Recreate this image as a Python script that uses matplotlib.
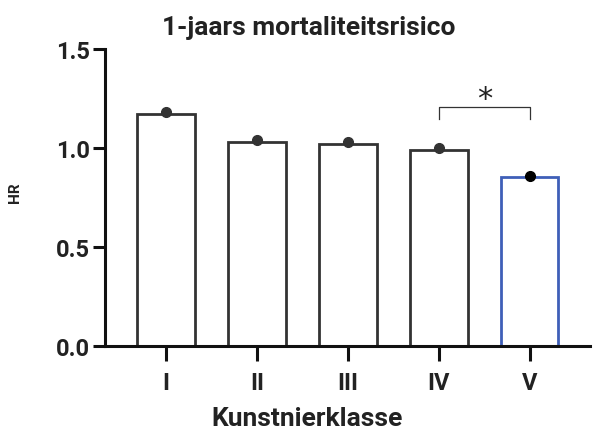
import numpy as np
import matplotlib
matplotlib.use("Agg")
import matplotlib.pyplot as plt

# hazard ratios per class (bar height) and the plotted point estimate
klassen = ["I", "II", "III", "IV", "V"]
hr_bar = [1.17, 1.03, 1.02, 0.99, 0.85]
hr_punt = [1.18, 1.04, 1.03, 1.00, 0.86]
randkleur = ["#333333", "#333333", "#333333", "#333333", "#3f5fb8"]
puntkleur = ["#333333", "#333333", "#333333", "#333333", "#000000"]
sig_paar = (3, 4)
sig_hoogte = 1.205
sig_teken = "*"

plt.rcParams["font.family"] = ["Roboto", "DejaVu Sans"]

fig = plt.figure(figsize=(5.94, 4.31), dpi=100)
ax = fig.add_axes([0.177, 0.196, 0.816, 0.688])

x = np.arange(len(klassen))
ax.bar(x, hr_bar, width=0.63, color="white", edgecolor=randkleur,
       linewidth=2.0, zorder=2)
for xi, yi, c in zip(x, hr_punt, puntkleur):
    ax.plot(xi, yi, "o", color=c, markersize=7, zorder=3)

# significance bracket between IV and V
x1, x2 = sig_paar
ax.plot([x1, x1, x2, x2], [sig_hoogte - 0.06, sig_hoogte, sig_hoogte, sig_hoogte - 0.06],
        color="#333333", linewidth=0.9, zorder=3)
ax.text((x1 + x2) / 2, sig_hoogte + 0.045, sig_teken, ha="center", va="center",
        fontsize=22, color="#222222", family=["DejaVu Sans"])

ax.set_xlim(-0.67, 4.66)
ax.set_ylim(0, 1.5)
ax.set_yticks([0.0, 0.5, 1.0, 1.5])
ax.set_yticklabels(["0.0", "0.5", "1.0", "1.5"])
ax.set_xticks(x)
ax.set_xticklabels(klassen)

for s in ["top", "right"]:
    ax.spines[s].set_visible(False)
for s in ["left", "bottom"]:
    ax.spines[s].set_linewidth(2.2)
    ax.spines[s].set_color("#111111")

ax.tick_params(axis="y", length=9, width=2.2, labelsize=17, pad=2, colors="#111111")
ax.tick_params(axis="x", length=11, width=2.2, labelsize=17, pad=7, colors="#111111")
for lab in ax.get_xticklabels() + ax.get_yticklabels():
    lab.set_fontweight("bold")
    lab.set_color("#222222")

fig.text(0.519, 0.935, "1-jaars mortaliteitsrisico", fontsize=19, fontweight="bold",
         color="#222222", ha="center", va="center")
ax.set_xlabel("Kunstnierklasse", fontsize=19, fontweight="bold",
              color="#222222")
ax.xaxis.set_label_coords(0.417, -0.205)
ax.set_ylabel("HR", fontsize=11, fontweight="bold", color="#222222")
ax.yaxis.set_label_coords(-0.172, 0.52)

fig.savefig("out.png", dpi=100)
